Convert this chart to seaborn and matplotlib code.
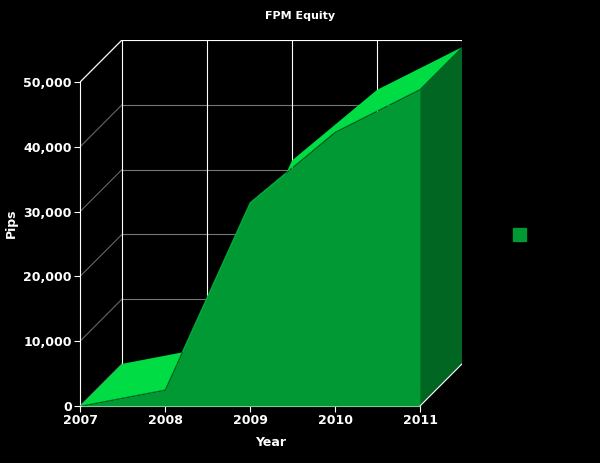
import numpy as np
import matplotlib
matplotlib.use("Agg")
import matplotlib.pyplot as plt
import seaborn as sns

years = [2007, 2008, 2009, 2010, 2011]
pips = [0, 2500, 31400, 42300, 48900]
yticks = [0, 10000, 20000, 30000, 40000, 50000]

sns.set_style("dark")
plt.rcParams['font.family'] = ['Liberation Sans Narrow', 'DejaVu Sans']

dx = 0.494   # depth offset in years
dy = 6500    # depth offset in pips

fig = plt.figure(figsize=(6, 4.63), dpi=100, facecolor="black")
ax = fig.add_axes([80/600, 57/463, 382/600, 366/463])
ax.set_facecolor("black")
ax.set_xlim(2007, 2011 + dx)
ax.set_ylim(0, 50000 + dy)

# back wall grid (behind the area)
for t in yticks:
    ax.plot([2007, 2007 + dx], [t, t + dy], color="#666666", lw=0.8, zorder=1)
    ax.plot([2007 + dx, 2011 + dx], [t + dy, t + dy], color="#777777", lw=0.8, zorder=1)
for yr in years:
    ax.plot([yr + dx, yr + dx], [dy, 50000 + dy], color="white", lw=0.8, zorder=1)
ax.plot([2007, 2007 + dx], [50000, 50000 + dy], color="white", lw=0.8, zorder=1)
ax.plot([2007 + dx, 2011 + dx], [50000 + dy, 50000 + dy], color="white", lw=0.8, zorder=1)

# top surface
xs = np.array(years, dtype=float)
vs = np.array(pips, dtype=float)
top_x = np.concatenate([xs, xs[::-1] + dx])
top_y = np.concatenate([vs, vs[::-1] + dy])
ax.fill(top_x, top_y, color="#00dd44", lw=0, zorder=3)
# right side face
ax.fill([2011, 2011, 2011 + dx, 2011 + dx], [0, pips[-1], pips[-1] + dy, dy], color="#006622", lw=0, zorder=3)
# front face
ax.fill_between(years, pips, 0, color="#009933", lw=0, zorder=4)
sns.lineplot(x=years, y=pips, ax=ax, color="#009933", lw=0.5, zorder=4)

# floor line
ax.plot([2011, 2011 + dx], [0, dy], color="white", lw=0.8, zorder=5)

for s in ["top", "right"]:
    ax.spines[s].set_visible(False)
ax.spines["left"].set_color("white")
ax.spines["bottom"].set_color("white")
ax.spines["left"].set_bounds(0, 50000)
ax.spines["bottom"].set_bounds(2007, 2011)
ax.set_xticks(years)
ax.set_xticklabels([str(y) for y in years], color="white", fontweight="bold", fontsize=9)
ax.set_yticks(yticks)
ax.set_yticklabels([f"{t:,}" for t in yticks], color="white", fontweight="bold", fontsize=9)
ax.tick_params(colors="white", length=4, left=True, bottom=True, pad=2)
ax.grid(False)
ax.set_xlabel("Year", color="white", fontweight="bold", fontsize=9, labelpad=6)
ax.set_ylabel("Pips", color="white", fontweight="bold", fontsize=9, labelpad=4)
fig.text(0.5, 0.958, "FPM Equity", color="white", fontweight="bold", fontsize=8, ha="center")

# legend square
fig.patches.append(plt.Rectangle((513/600, 1 - 241/463), 13/600, 13/463,
                                 transform=fig.transFigure, color="#009933"))

fig.savefig("out.png", dpi=100, facecolor="black")
